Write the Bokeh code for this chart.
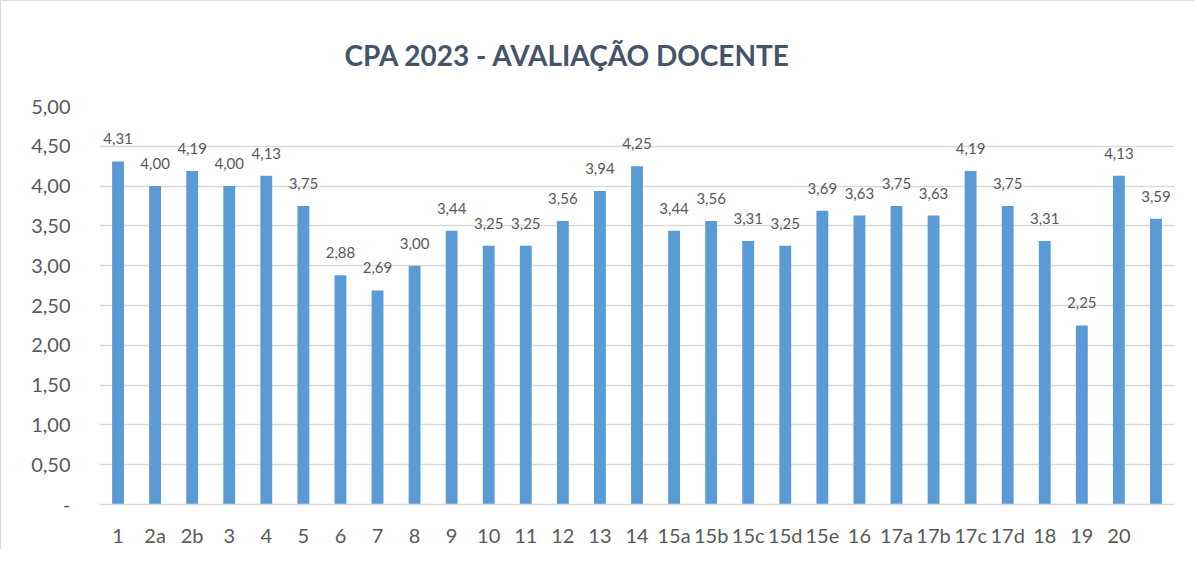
from bokeh.plotting import figure
from bokeh.models import FactorRange, FixedTicker, ColumnDataSource, LabelSet, Range1d
from bokeh.core.properties import value
from bokeh.embed import file_html
from bokeh.resources import INLINE

categories = ["1", "2a", "2b", "3", "4", "5", "6", "7", "8", "9", "10", "11", "12", "13", "14",
              "15a", "15b", "15c", "15d", "15e", "16", "17a", "17b", "17c", "17d", "18", "19", "20", " "]
values = [4.31, 4.00, 4.19, 4.00, 4.13, 3.75, 2.88, 2.69, 3.00, 3.44, 3.25, 3.25, 3.56, 3.94, 4.25,
          3.44, 3.56, 3.31, 3.25, 3.69, 3.63, 3.75, 3.63, 4.19, 3.75, 3.31, 2.25, 4.13, 3.59]
y_ticks = [0, 0.5, 1.0, 1.5, 2.0, 2.5, 3.0, 3.5, 4.0, 4.5, 5.0]
y_tick_labels = ["-", "0,50", "1,00", "1,50", "2,00", "2,50", "3,00", "3,50", "4,00", "4,50", "5,00"]
title_text = "CPA 2023 - AVALIAÇÃO DOCENTE"

BAR = "#5B9BD5"
TXT = "#595959"
GRID = "#D9D9D9"
FONT = "Lato"

labels = [f"{v:.2f}".replace(".", ",") for v in values]
src = ColumnDataSource(dict(cat=categories, val=values, lab=labels))

p = figure(x_range=FactorRange(*categories, range_padding=0),
           y_range=Range1d(0, 5),
           frame_width=1075, frame_height=398,
           output_backend="svg", toolbar_location=None,
           min_border_left=98, min_border_right=20, min_border_top=104, min_border_bottom=40,
           title=title_text,
           styles={"border-left": "1px solid #D9D9D9", "border-top": "1px solid #D9D9D9"})

p.vbar(x="cat", top="val", width=0.32, source=src, color=BAR, line_color=None)

p.add_layout(LabelSet(x="cat", y="val", text="lab", source=src, y_offset=17,
                      text_align="center", text_baseline="alphabetic",
                      text_font=value(FONT), text_font_size="15px", text_color=TXT))

p.title.align = "left"
p.title.offset = 245
p.title.text_font = FONT
p.title.text_font_size = "28px"
p.title.text_font_style = "bold"
p.title.text_color = "#44546A"
p.title.standoff = 69

p.outline_line_color = None
p.xgrid.grid_line_color = None
p.ygrid.grid_line_color = GRID
p.ygrid.grid_line_width = 1.5
p.yaxis.ticker = FixedTicker(ticks=y_ticks)
p.yaxis.major_label_overrides = {t: l for t, l in zip(y_ticks, y_tick_labels)}

for ax in (p.xaxis, p.yaxis):
    ax.axis_line_color = None
    ax.major_tick_line_color = None
    ax.minor_tick_line_color = None
    ax.major_tick_out = 0
    ax.major_tick_in = 0
    ax.major_label_text_font = FONT
    ax.major_label_text_font_size = "20px"
    ax.major_label_text_color = TXT

p.xaxis.axis_line_color = GRID
p.xaxis.axis_line_width = 1.5
p.yaxis.major_label_standoff = 29
p.xaxis.major_label_standoff = 18

open("out.html", "w").write(file_html(p, INLINE))
